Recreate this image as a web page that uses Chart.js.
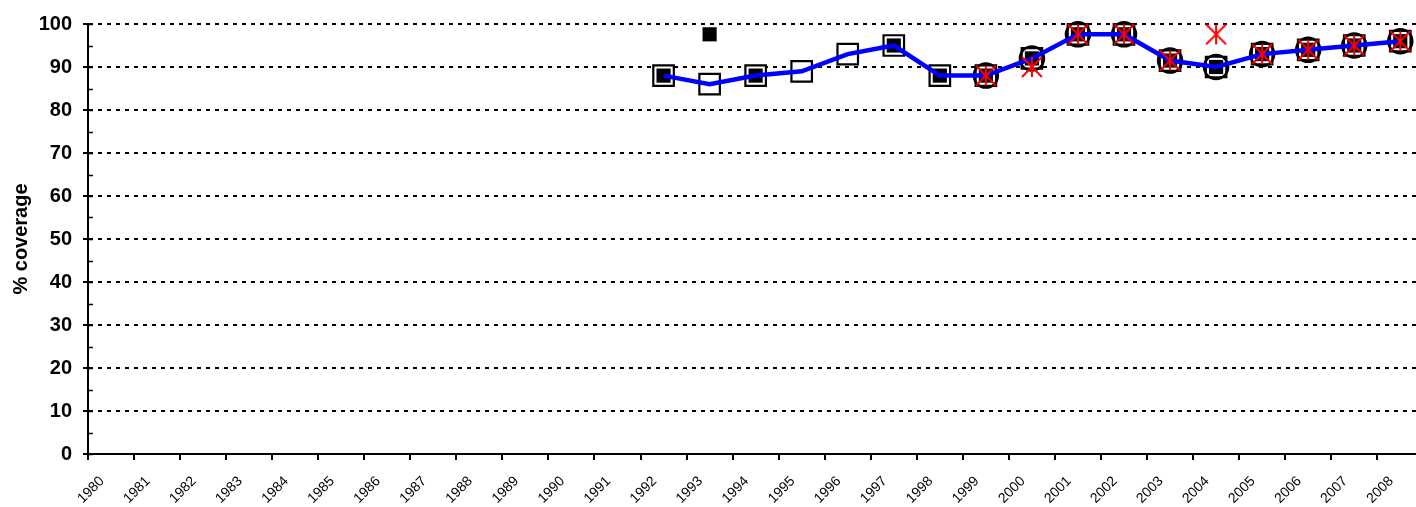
<!DOCTYPE html>
<html>
<head>
<meta charset="utf-8">
<script src="https://cdn.jsdelivr.net/npm/chart.js@4/dist/chart.umd.min.js"></script>
<style>
  html, body { margin: 0; padding: 0; background: #fff; overflow: hidden; }
  #wrap { width: 1440px; height: 507px; }
</style>
</head>
<body>
<div id="wrap"><canvas id="coverageChart" width="1440" height="507"></canvas></div>
<script>
const years = ['1980', '1981', '1982', '1983', '1984', '1985', '1986', '1987', '1988', '1989',
  '1990', '1991', '1992', '1993', '1994', '1995', '1996', '1997', '1998', '1999',
  '2000', '2001', '2002', '2003', '2004', '2005', '2006', '2007', '2008'];
const pre = [null, null, null, null, null, null, null, null, null, null, null, null];

// blue line
const estimate = pre.concat([88, 86, 88, 89, 93, 95, 88, 88, 92, 97.6, 97.6, 91.5, 90, 93, 94, 95, 96]);
// large open squares
const openSquares = pre.concat([88, 86, 88, 89, 93, 95, 88, 88, 92, 97.6, 97.6, 91.5, 90, 93, 94, 95, 96]);
// small filled squares
const filledSquares = pre.concat([88, 97.6, 88, null, null, 95, 88, 88, 92, 97.6, 97.6, 91.5, 90, 93, 94, 95, 96]);
// circles
const circles = pre.concat([null, null, null, null, null, null, null, 88, 92, 97.6, 97.6, 91.5, 90, 93, 94, 95, 96]);
// red asterisks
const asterisks = pre.concat([null, null, null, null, null, null, null, 88, 90, 97.6, 97.6, 91.5, 97.6, 93, 94, 95, 96]);

const yTicks = [0, 10, 20, 30, 40, 50, 60, 70, 80, 90, 100];

function makeAsterisk(size, color) {
  const c = document.createElement('canvas');
  c.width = size; c.height = size;
  const g = c.getContext('2d');
  g.strokeStyle = color;
  g.lineWidth = 2;
  const m = size / 2, r = size / 2 - 1;
  g.beginPath();
  g.moveTo(m, m - r); g.lineTo(m, m + r);
  g.moveTo(m - r, m - r); g.lineTo(m + r, m + r);
  g.moveTo(m + r, m - r); g.lineTo(m - r, m + r);
  g.stroke();
  return c;
}

// short tick marks on the inside of the y axis
const innerTicks = {
  id: 'innerTicks',
  afterDraw(chart) {
    const y = chart.scales.y;
    const ctx = chart.ctx;
    ctx.save();
    ctx.strokeStyle = '#000';
    ctx.lineWidth = 1.5;
    y.ticks.forEach(t => {
      const py = Math.round(y.getPixelForValue(t.value)) + 0.5;
      ctx.beginPath();
      ctx.moveTo(y.right, py);
      ctx.lineTo(y.right + 5, py);
      ctx.stroke();
    });
    ctx.restore();
  }
};

Chart.defaults.font.family = "'Liberation Sans', Arial, sans-serif";
Chart.defaults.color = '#000';

const ctx = document.getElementById('coverageChart').getContext('2d');
const coverageChart = new Chart(ctx, {
  type: 'line',
  data: {
    labels: years,
    datasets: [
      {
        label: 'asterisk',
        data: asterisks,
        showLine: false,
        pointStyle: makeAsterisk(22, '#ff0000'),
        pointRadius: 10,
        order: 0
      },
      {
        label: 'estimate',
        data: estimate,
        borderColor: '#0000ff',
        borderWidth: 4.5,
        pointRadius: 0,
        tension: 0,
        fill: false,
        order: 1
      },
      {
        label: 'filled',
        data: filledSquares,
        showLine: false,
        pointStyle: 'rect',
        pointRadius: 10,
        pointBackgroundColor: '#000',
        pointBorderColor: '#000',
        pointBorderWidth: 0,
        order: 2
      },
      {
        label: 'circle',
        data: circles,
        showLine: false,
        pointStyle: 'circle',
        pointRadius: 12,
        pointBackgroundColor: 'rgba(255,255,255,0)',
        pointBorderColor: '#000',
        pointBorderWidth: 2.5,
        order: 3
      },
      {
        label: 'open',
        data: openSquares,
        showLine: false,
        pointStyle: 'rect',
        pointRadius: 14.5,
        pointBackgroundColor: '#fff',
        pointBorderColor: '#000',
        pointBorderWidth: 2.2,
        order: 4
      }
    ]
  },
  options: {
    responsive: false,
    animation: false,
    clip: false,
    layout: { padding: { top: 24, left: 0, right: 0, bottom: 0 } },
    plugins: {
      legend: { display: false },
      tooltip: { enabled: false },
      title: { display: false }
    },
    scales: {
      x: {
        type: 'category',
        offset: true,
        grid: {
          offset: true,
          drawOnChartArea: false,
          drawTicks: true,
          tickLength: 6,
          color: '#000',
          lineWidth: 2
        },
        border: { color: '#000', width: 2 },
        ticks: {
          autoSkip: false,
          minRotation: 45,
          maxRotation: 45,
          padding: 13,
          labelOffset: -9,
          font: { size: 14 }
        },
        afterFit: (scale) => { scale.height = 53; }
      },
      y: {
        min: 0,
        max: 100,
        afterBuildTicks: (scale) => {
          const all = [];
          for (let i = 0; i < yTicks.length; i++) {
            all.push({ value: yTicks[i] });
            if (i < yTicks.length - 1) all.push({ value: yTicks[i] + 5 });
          }
          scale.ticks = all;
        },
        grid: {
          color: (c) => (c.tick && c.tick.value % 10 === 0) ? '#000' : 'rgba(0,0,0,0)',
          tickColor: (c) => (c.tick && c.tick.value % 10 === 0) ? '#000' : 'rgba(0,0,0,0)',
          lineWidth: 2,
          tickLength: 5
        },
        border: { color: '#000', width: 2, dash: [4, 5] },
        ticks: {
          autoSkip: false,
          padding: 11,
          font: { size: 20, weight: 'bold' },
          callback: (v) => (v % 10 === 0 ? v : '')
        },
        title: {
          display: true,
          text: '% coverage',
          font: { size: 20, weight: 'bold' },
          padding: { top: 9, bottom: 0 }
        },
        afterFit: (scale) => { scale.width = 88; }
      }
    }
  },
  plugins: [innerTicks]
});
</script>
</body>
</html>
